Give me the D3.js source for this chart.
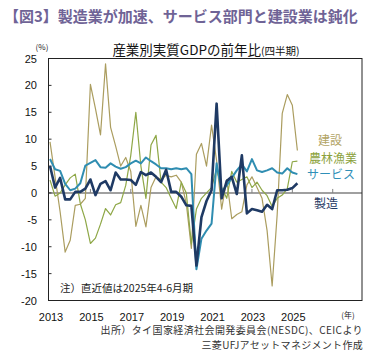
<!DOCTYPE html>
<html>
<head>
<meta charset="utf-8">
<script src="https://cdn.jsdelivr.net/npm/d3@7"></script>
<style>
  body { margin: 0; background: #fff; }
  svg { display: block; font-family: "Noto Sans CJK JP", "Noto Sans", sans-serif; }
</style>
</head>
<body>
<svg id="chart" width="389" height="353"></svg>
<script>
// quarterly, 2013Q1 .. 2025Q2
const yearLabels = ["2013", "2015", "2017", "2019", "2021", "2023", "2025"];
const yTicks = [25, 20, 15, 10, 5, 0, -5, -10, -15, -20];

const construction = [
  9.5, 3.0, -3.5, -11.0, -8.8, -2.3, -2.1, -1.0, 20.2, 15.7,
  10.8, 24.0, 12.2, 8.7, 5.0, 6.6, 4.0, -6.2, -2.3, -6.3,
  1.0, 3.0, 2.5, 3.3, 3.0, 3.3, 2.0, -2.0, -10.3, 7.2,
  9.2, 5.0, 12.6, 6.0, -3.0, 2.5, -4.8, -4.0, -3.5, 1.5,
  3.0, 1.0, -1.0, -7.0, -17.3, -4.0, 14.8, 18.3, 16.3, 7.9
];
const agriculture = [
  2.4, -0.6, 0.0, 1.5, 2.8, 3.5, -2.0, -5.0, -9.4, -8.4,
  -5.8, -2.9, -4.1, -2.2, -1.8, 1.4, 7.0, 15.0, 5.0, -1.0,
  8.9, 10.7, 2.0, 1.0, -1.0, -2.9, 2.0, 0.0, -9.5, -3.0,
  -1.0, 0.0, 1.0, 4.5, 1.0, -1.0, 4.0, 2.0, 2.5, 3.0,
  1.0, 2.0, 0.5, -0.5, -2.5, -1.0, -0.4, 0.8, 5.8, 5.9
];
const services = [
  6.3, 4.4, 4.1, 1.7, 0.5, 0.8, 1.8, 5.1, 5.6, 6.1,
  4.8, 4.7, 5.5, 4.9, 4.5, 4.8, 5.5, 6.0, 5.5, 6.6,
  5.9, 5.3, 4.6, 4.6, 4.4, 4.6, 4.4, 4.6, 3.5, -14.2,
  -8.5, -7.0, -5.7, 5.5, 0.3, 1.4, 2.8, 4.2, 5.3, 4.0,
  6.3, 4.2, 3.9, 4.2, 4.6, 3.8, 3.6, 4.6, 3.8, 3.5
];
const manufacturing = [
  5.0, 1.0, 2.8, -1.2, -1.2, 0.2, 0.2, 0.8, 2.5, -0.4,
  1.7, 2.2, 0.5, 3.8, 2.5, 2.5, 2.4, 1.5, 3.9, 3.3,
  3.8, 3.0, 2.0, 4.3, 0.2, 0.2, -0.7, -2.3, -2.4, -13.5,
  -4.5, -1.5, 0.5, 16.6, -1.0, 2.2, 3.0, -0.2, 7.0, -3.8,
  -3.0, -3.2, -3.5, -2.2, -3.0, 0.5, 0.5, 0.6, 0.9, 1.8
];

const series = [
  { name: "建設",     values: construction,  color: "#ab9d5f", width: 1.2, label: "#b3a466", lx: 330, ly: 141 },
  { name: "農林漁業", values: agriculture,   color: "#8ea746", width: 1.2, label: "#8ca23c", lx: 333, ly: 159 },
  { name: "サービス", values: services,      color: "#2f8db1", width: 2,   label: "#2f8fb8", lx: 331, ly: 175 },
  { name: "製造",     values: manufacturing, color: "#1f3a64", width: 2.6, label: "#1f3a64", lx: 326, ly: 204 }
];

const svg = d3.select("#chart");

const plot = { left: 48.5, right: 362, top: 58.5, bottom: 300.5 };

const x = d3.scaleLinear().domain([-0.3, 61.8]).range([plot.left, plot.right]);
const y = d3.scaleLinear().domain([-20, 25]).range([plot.bottom, plot.top]);

// heading
svg.append("text")
  .attr("x", 4).attr("y", 22)
  .attr("fill", "#6f6396")
  .style("font-size", "15px")
  .style("font-weight", "bold")
  .text("【図3】製造業が加速、サービス部門と建設業は鈍化");

const title = svg.append("text")
  .attr("x", 206).attr("y", 55)
  .attr("text-anchor", "middle")
  .attr("fill", "#111")
  .style("font-size", "13.5px");
title.append("tspan").text("産業別実質GDPの前年比");
title.append("tspan").style("font-size", "10.5px").text("(四半期)");

svg.append("text")
  .attr("x", 42).attr("y", 50)
  .attr("text-anchor", "middle")
  .attr("fill", "#222")
  .style("font-size", "8px")
  .text("(%)");

// zero line + small ticks
svg.append("line")
  .attr("x1", plot.left).attr("x2", plot.right)
  .attr("y1", y(0)).attr("y2", y(0))
  .attr("stroke", "#808080").attr("stroke-width", 1.5);

const tickIdx = d3.range(8, 62, 8);
svg.append("g").selectAll("line")
  .data(tickIdx)
  .join("line")
  .attr("x1", d => x(d)).attr("x2", d => x(d))
  .attr("y1", y(0)).attr("y2", y(0) - 4)
  .attr("stroke", "#808080").attr("stroke-width", 1);

// y ticks inside
svg.append("g").selectAll("line")
  .data(yTicks)
  .join("line")
  .attr("x1", plot.left).attr("x2", plot.left + 3)
  .attr("y1", d => y(d)).attr("y2", d => y(d))
  .attr("stroke", "#333");

svg.append("g").selectAll("text")
  .data(yTicks)
  .join("text")
  .attr("x", 37).attr("y", d => y(d) + 4)
  .attr("text-anchor", "end")
  .attr("fill", "#111")
  .style("font-family", "'Liberation Sans', Arial, sans-serif")
  .style("font-size", "11px")
  .text(d => d);

svg.append("g").selectAll("text")
  .data(yearLabels)
  .join("text")
  .attr("x", (d, i) => x(i * 8) + 1)
  .attr("y", 321)
  .attr("text-anchor", "middle")
  .attr("fill", "#111")
  .style("font-family", "'Liberation Sans', Arial, sans-serif")
  .style("font-size", "11px")
  .text(d => d);

svg.append("text")
  .attr("x", 348).attr("y", 318)
  .attr("text-anchor", "middle")
  .attr("fill", "#222")
  .style("font-size", "8px")
  .text("(年)");

// lines
const line = d3.line()
  .x((d, i) => x(i))
  .y(d => y(d));

svg.append("g").selectAll("path")
  .data(series)
  .join("path")
  .attr("fill", "none")
  .attr("stroke", d => d.color)
  .attr("stroke-width", d => d.width)
  .attr("stroke-linejoin", "round")
  .attr("d", d => line(d.values));

svg.append("g").selectAll("text")
  .data(series)
  .join("text")
  .attr("x", d => d.lx).attr("y", d => d.ly + 4)
  .attr("text-anchor", "middle")
  .attr("fill", d => d.label)
  .style("font-size", "12px")
  .text(d => d.name);

// frame
svg.append("rect")
  .attr("x", plot.left).attr("y", plot.top)
  .attr("width", plot.right - plot.left)
  .attr("height", plot.bottom - plot.top)
  .attr("fill", "none")
  .attr("stroke", "#222").attr("stroke-width", 1);

svg.append("text")
  .attr("x", 60).attr("y", 292)
  .attr("fill", "#222")
  .style("font-size", "10.5px")
  .text("注）直近値は2025年4-6月期");

svg.append("text")
  .attr("x", 363).attr("y", 334)
  .attr("text-anchor", "end")
  .attr("fill", "#333")
  .style("font-size", "10px")
  .style("letter-spacing", "0.4px")
  .text("出所）タイ国家経済社会開発委員会(NESDC)、CEICより");

svg.append("text")
  .attr("x", 363).attr("y", 349)
  .attr("text-anchor", "end")
  .attr("fill", "#333")
  .style("font-size", "10px")
  .style("letter-spacing", "0.3px")
  .text("三菱UFJアセットマネジメント作成");
</script>
</body>
</html>
